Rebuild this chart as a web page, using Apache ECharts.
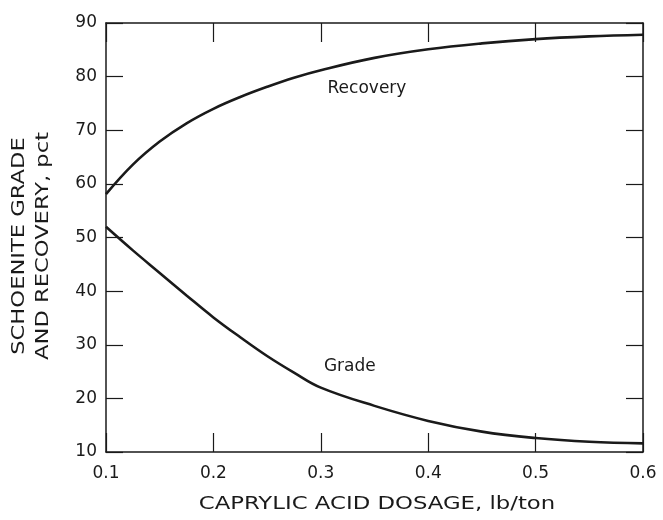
<!DOCTYPE html>
<html>
<head>
<meta charset="utf-8">
<script src="https://cdn.jsdelivr.net/npm/echarts@6/dist/echarts.min.js"></script>
<style>
  html, body { margin: 0; padding: 0; background: #fff; }
  #chart { width: 663px; height: 520px; }
</style>
</head>
<body>
<div id="chart"></div>
<script>
// Caprylic acid dosage, lb/ton
const dosage = [0.1, 0.125, 0.15, 0.175, 0.2, 0.225, 0.25, 0.275, 0.3, 0.35, 0.4, 0.45, 0.5, 0.55, 0.6];
// Schoenite recovery, pct
const recovery = [58.1, 63.6, 67.9, 71.3, 74.0, 76.2, 78.1, 79.8, 81.2, 83.5, 85.1, 86.2, 87.0, 87.5, 87.8];
// Schoenite grade, pct
const grade = [52.0, 47.6, 43.4, 39.2, 35.1, 31.4, 27.9, 24.8, 22.0, 18.6, 15.8, 13.8, 12.6, 11.9, 11.6];

const xTicks = { min: 0.1, max: 0.6, interval: 0.1 };
const yTicks = { min: 10, max: 90, interval: 10 };

const xTitle = 'CAPRYLIC ACID DOSAGE, lb/ton';
const yTitle = ['SCHOENITE GRADE', 'AND RECOVERY, pct'];

const ink = '#1a1a1a';
const font = 'DejaVu Sans';

const pairs = (ys) => dosage.map((x, i) => [x, ys[i]]);

const chart = echarts.init(document.getElementById('chart'), null, { renderer: 'canvas' });

const frameLine = { show: true, onZero: false, lineStyle: { color: ink, width: 1.5 } };
const tickStyle = { color: ink, width: 1.2 };

// Wide lettering for the axis titles: stretch the text along its baseline
const titleStyle = (text) => ({
  text: text, fill: ink, font: '17px "' + font + '"',
  align: 'center', verticalAlign: 'middle'
});

chart.setOption({
  backgroundColor: '#ffffff',
  animation: false,
  grid: { left: 106, right: 20, top: 23, bottom: 68, containLabel: false, outerBoundsMode: 'none' },
  xAxis: [
    {
      type: 'value', position: 'bottom',
      min: xTicks.min, max: xTicks.max, interval: xTicks.interval,
      axisLine: frameLine,
      axisTick: { show: true, inside: true, length: 19, lineStyle: tickStyle },
      axisLabel: {
        color: ink, fontFamily: font, fontSize: 17, margin: 13,
        formatter: (v) => v.toFixed(1)
      },
      splitLine: { show: false }
    },
    {
      type: 'value', position: 'top',
      min: xTicks.min, max: xTicks.max, interval: xTicks.interval,
      axisLine: frameLine,
      axisTick: { show: true, inside: true, length: 19, lineStyle: tickStyle },
      axisLabel: { show: false },
      splitLine: { show: false }
    }
  ],
  yAxis: [
    {
      type: 'value', position: 'left',
      min: yTicks.min, max: yTicks.max, interval: yTicks.interval,
      axisLine: frameLine,
      axisTick: { show: true, inside: true, length: 17, lineStyle: tickStyle },
      axisLabel: { color: ink, fontFamily: font, fontSize: 17, margin: 9 },
      splitLine: { show: false }
    },
    {
      type: 'value', position: 'right',
      min: yTicks.min, max: yTicks.max, interval: yTicks.interval,
      axisLine: frameLine,
      axisTick: { show: true, inside: true, length: 17, lineStyle: tickStyle },
      axisLabel: { show: false },
      splitLine: { show: false }
    }
  ],
  graphic: [
    { type: 'text', x: 377, y: 505, scaleX: 1.34, style: titleStyle(xTitle) },
    { type: 'text', x: 20, y: 246, rotation: Math.PI / 2, scaleX: 1.33, style: titleStyle(yTitle[0]) },
    { type: 'text', x: 44, y: 246, rotation: Math.PI / 2, scaleX: 1.33, style: titleStyle(yTitle[1]) }
  ],
  series: [
    {
      name: 'Recovery', type: 'line', xAxisIndex: 0, yAxisIndex: 0,
      data: pairs(recovery), smooth: 0.4,
      showSymbol: false, symbol: 'none',
      lineStyle: { color: ink, width: 2.6 },
      markPoint: {
        symbol: 'circle', symbolSize: 0,
        label: { show: true, color: ink, fontFamily: font, fontSize: 17, formatter: 'Recovery' },
        data: [{ coord: [0.343, 77.7] }]
      }
    },
    {
      name: 'Grade', type: 'line', xAxisIndex: 0, yAxisIndex: 0,
      data: pairs(grade), smooth: 0.4,
      showSymbol: false, symbol: 'none',
      lineStyle: { color: ink, width: 2.6 },
      markPoint: {
        symbol: 'circle', symbolSize: 0,
        label: { show: true, color: ink, fontFamily: font, fontSize: 17, formatter: 'Grade' },
        data: [{ coord: [0.327, 25.9] }]
      }
    }
  ]
});
</script>
</body>
</html>
